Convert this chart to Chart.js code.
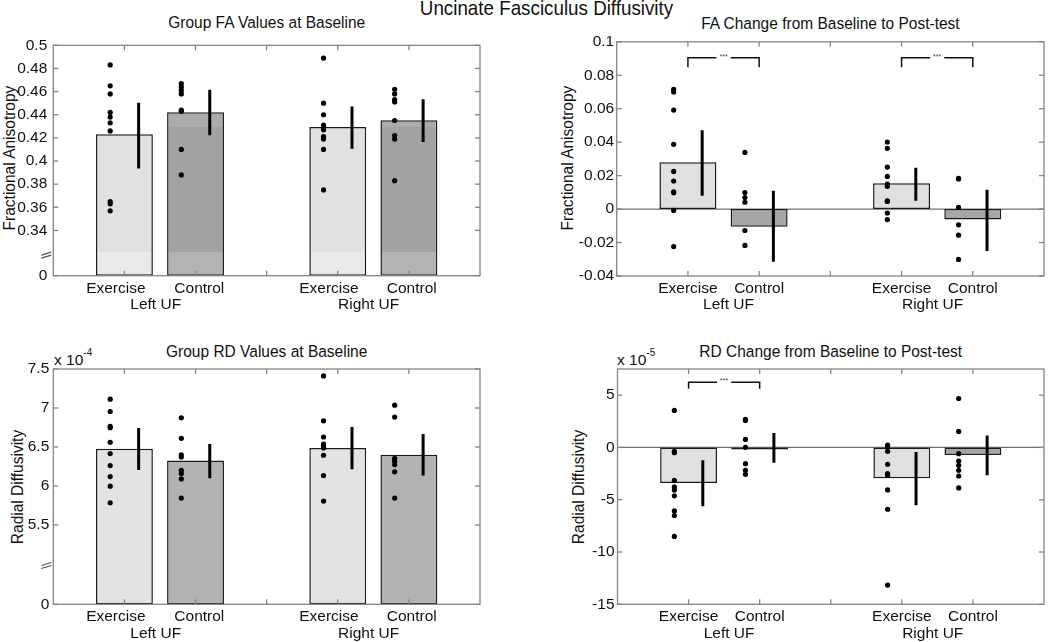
<!DOCTYPE html>
<html><head><meta charset="utf-8">
<script src="https://cdn.jsdelivr.net/npm/chart.js@4"></script>
<style>
html,body{margin:0;padding:0;background:#fff;}
body{width:1050px;height:642px;position:relative;overflow:hidden;font-family:"Liberation Sans",Arial,sans-serif;color:#111;}
.pane{position:absolute;}
.pane canvas{display:block;}
.txt{position:absolute;white-space:nowrap;transform:translate(-50%,-50%) scale(1,1.1);line-height:1;font-size:15.5px;}
.ylab{position:absolute;white-space:nowrap;transform:translate(-50%,-50%) rotate(-90deg) scale(1,1.1);line-height:1;font-size:15.5px;}
.mult{position:absolute;white-space:nowrap;font-size:15.5px;line-height:1;}
.mult sup{font-size:10px;position:relative;top:-4px;vertical-align:top;}
</style></head>
<body>
<div class="txt" style="left:546.5px;top:9px;font-size:18.8px;">Uncinate Fasciculus Diffusivity</div>
<div class="txt" style="left:266.7px;top:22px;">Group FA Values at Baseline</div>
<div class="txt" style="left:830.4px;top:22.7px;">FA Change from Baseline to Post-test</div>
<div class="txt" style="left:266.7px;top:350.7px;">Group RD Values at Baseline</div>
<div class="txt" style="left:830.7px;top:351px;">RD Change from Baseline to Post-test</div>
<div class="ylab" style="left:8.5px;top:157.5px;">Fractional Anisotropy</div>
<div class="ylab" style="left:566.7px;top:157.5px;">Fractional Anisotropy</div>
<div class="ylab" style="left:16.7px;top:486.5px;">Radial Diffusivity</div>
<div class="ylab" style="left:578px;top:486.5px;">Radial Diffusivity</div>
<div class="mult" style="left:54px;top:352px;">x 10<sup>-4</sup></div>
<div class="mult" style="left:617px;top:352px;">x 10<sup>-5</sup></div>

<div class="pane" style="left:0;top:30px;"><canvas id="c1" width="525" height="290"></canvas></div>
<div class="pane" style="left:525px;top:30px;"><canvas id="c2" width="525" height="290"></canvas></div>
<div class="pane" style="left:0;top:320px;"><canvas id="c3" width="525" height="322"></canvas></div>
<div class="pane" style="left:525px;top:320px;"><canvas id="c4" width="525" height="322"></canvas></div>

<script>
// ---------------- DATA ----------------
// group order: Left Exercise, Left Control, Right Exercise, Right Control
const groupPos = [1, 2, 4, 5];
const xTickValues = [1, 2, 3, 4, 5];
const xCatLabels = ['Exercise', 'Control', 'Exercise', 'Control'];
const sideLabels = ['Left UF', 'Right UF'];

// Panel 1: Group FA values at baseline
const faBaseMean  = [0.4231, 0.4422, 0.4293, 0.4352];
const faBaseErrLo = [0.3936, 0.4222, 0.4107, 0.4164];
const faBaseErrHi = [0.4503, 0.4615, 0.4472, 0.4534];
const faBaseLeftEx   = [0.483, 0.465, 0.458, 0.442, 0.438, 0.433, 0.426, 0.365, 0.363, 0.357];
const faBaseLeftCon  = [0.467, 0.464, 0.461, 0.458, 0.444, 0.443, 0.410, 0.388];
const faBaseRightEx  = [0.489, 0.450, 0.440, 0.431, 0.429, 0.427, 0.421, 0.419, 0.410, 0.375];
const faBaseRightCon = [0.462, 0.458, 0.453, 0.451, 0.435, 0.422, 0.419, 0.383];
const faBaseTicks = [0, 0.34, 0.36, 0.38, 0.4, 0.42, 0.44, 0.46, 0.48, 0.5];

// Panel 2: FA change from baseline to post-test
const faChgMean  = [0.0280, -0.0106, 0.0154, -0.0063];
const faChgErrLo = [0.0079, -0.0315, 0.0050, -0.0250];
const faChgErrHi = [0.0472, 0.0109, 0.0247, 0.0115];
const faChgLeftEx   = [0.0716, 0.0700, 0.0592, 0.0387, 0.0225, 0.0168, 0.0103, 0.0097, -0.0008, -0.0224];
const faChgLeftCon  = [0.0339, 0.0099, 0.0069, 0.0041, -0.0128, -0.0217];
const faChgRightEx  = [0.0401, 0.0363, 0.0251, 0.0195, 0.0150, 0.0136, 0.0049, 0.0046, -0.0024, -0.0063];
const faChgRightCon = [0.0184, 0.0180, 0.0010, -0.0094, -0.0156, -0.0301];
const faChgTicks = [-0.04, -0.02, 0, 0.02, 0.04, 0.06, 0.08, 0.1];
const faChgBrackets = [[1, 2], [4, 5]];
const faChgBracketY = 0.0905, faChgBracketDrop = 0.0057;

// Panel 3: Group RD values at baseline (x 10^-4)
const rdBaseMean  = [6.479, 6.326, 6.487, 6.402];
const rdBaseErrLo = [6.206, 6.100, 6.215, 6.134];
const rdBaseErrHi = [6.743, 6.538, 6.755, 6.666];
const rdBaseLeftEx   = [7.113, 6.955, 6.764, 6.747, 6.560, 6.415, 6.262, 6.121, 5.998, 5.785];
const rdBaseLeftCon  = [6.874, 6.611, 6.398, 6.372, 6.202, 6.160, 6.091, 5.845];
const rdBaseRightEx  = [7.411, 6.836, 6.628, 6.538, 6.509, 6.487, 6.394, 6.134, 5.806];
const rdBaseRightCon = [7.036, 6.883, 6.355, 6.321, 6.274, 6.181, 5.845];
const rdBaseTicks = [0, 5.5, 6, 6.5, 7, 7.5];

// Panel 4: RD change from baseline to post-test (x 10^-5)
const rdChgMean  = [-3.39, -0.03, -2.95, -0.72];
const rdChgErrLo = [-5.62, -1.46, -5.52, -2.66];
const rdChgErrHi = [-1.23, 1.37, -0.44, 1.15];
const rdChgLeftEx   = [3.54, -0.37, -0.50, -3.14, -3.78, -4.06, -4.63, -6.07, -6.51, -8.51];
const rdChgLeftCon  = [2.68, 2.58, 0.77, 0.01, -1.55, -2.19, -2.57];
const rdChgRightEx  = [0.23, 0.01, -0.37, -1.61, -2.50, -2.66, -4.06, -5.91, -13.16];
const rdChgRightCon = [4.68, 1.53, -0.60, -1.30, -1.71, -2.19, -2.73, -3.87];
const rdChgTicks = [-15, -10, -5, 0, 5];
const rdChgBrackets = [[1, 2]];
const rdChgBracketY = 6.24, rdChgBracketDrop = 0.63;

// ---------------- LAYOUT (label anchor positions in axis units) ----------------
const leftColCatAt  = [0.88, 2.053, 3.876, 5.04];
const leftColSideAt = [1.44, 4.434];
const rightColCatAt  = [1, 2, 4, 5];
const rightColSideAt = [1.57, 4.435];

// ---------------- CHART SETUP ----------------
const FONT = '"Liberation Sans", Arial, sans-serif';
Chart.defaults.font.family = FONT;
Chart.defaults.font.size = 15.5;
Chart.defaults.color = '#111';

// linear scale with an axis break (values below breakAt are compressed)
class BrokenLinearScale extends Chart.LinearScale {
  _brk() { return { at: this.options.breakAt, gap: this.options.breakGap }; }
  getPixelForValue(value) {
    if (value === null || value === undefined || isNaN(value)) return NaN;
    const b = this._brk();
    const span = (this.max - b.at) + b.gap;
    const t = value >= b.at ? (value - b.at + b.gap) : (value / b.at) * b.gap;
    return this.bottom - (t / span) * this.height;
  }
  getValueForPixel(pixel) {
    const b = this._brk();
    const span = (this.max - b.at) + b.gap;
    const t = (this.bottom - pixel) / this.height * span;
    return t >= b.gap ? t - b.gap + b.at : t / b.gap * b.at;
  }
}
BrokenLinearScale.id = 'brokenLinear';
BrokenLinearScale.defaults = Chart.LinearScale.defaults;
Chart.register(BrokenLinearScale);

function line(ctx, x1, y1, x2, y2) { ctx.beginPath(); ctx.moveTo(x1, y1); ctx.lineTo(x2, y2); ctx.stroke(); }

const matlabAxes = {
  id: 'matlabAxes',
  beforeDatasetsDraw(chart, args, o) {
    const { ctx, chartArea: a } = chart;
    if (o.zeroLine) {
      const py = chart.scales.y.getPixelForValue(0);
      ctx.save(); ctx.strokeStyle = '#707070'; ctx.lineWidth = 1.2;
      line(ctx, a.left, py, a.right, py); ctx.restore();
    }
  },
  afterDatasetsDraw(chart, args, o) {
    const { ctx, chartArea: a } = chart;
    const xs = chart.scales.x, ys = chart.scales.y;
    ctx.save();
    ctx.strokeStyle = '#858585'; ctx.lineWidth = 1.3;
    ctx.strokeRect(a.left, a.top, a.right - a.left, a.bottom - a.top);
    const tl = 5;
    o.xTicks.forEach(v => {
      const px = xs.getPixelForValue(v);
      line(ctx, px, a.bottom, px, a.bottom - tl);
      line(ctx, px, a.top, px, a.top + tl);
    });
    ys.ticks.forEach(t => {
      const py = ys.getPixelForValue(t.value);
      line(ctx, a.left, py, a.left + tl, py);
      line(ctx, a.right, py, a.right - tl, py);
    });
    if (o.breakAt !== undefined) {
      const py = ys.getPixelForValue(o.breakAt);
      ctx.strokeStyle = '#555'; ctx.lineWidth = 1.2;
      line(ctx, a.left - 12, py + 1.5, a.left - 2, py - 1.5);
      line(ctx, a.left - 12, py + 4.5, a.left - 2, py + 1.5);
    }
    if (o.brackets) {
      ctx.fillStyle = '#444';
      ctx.font = '7px ' + FONT;
      ctx.textAlign = 'center'; ctx.textBaseline = 'middle';
      o.brackets.forEach(([p, q]) => {
        ctx.fillText('***', xs.getPixelForValue((p + q) / 2), ys.getPixelForValue(o.bracketY) - 1);
      });
    }
    ctx.restore();
  }
};

function buildPanel(id, d) {
  const canvas = document.getElementById(id);
  const W = canvas.width, H = canvas.height;
  const p = d.plot;
  const dotOffset = -0.2, errOffset = 0.2;

  const barData = d.mean.map((m, i) => ({ x: groupPos[i], y: m }));
  const errData = [];
  d.lo.forEach((l, i) => {
    const x = groupPos[i] + errOffset;
    errData.push({ x, y: l }, { x, y: d.hi[i] }, { x, y: null });
  });
  const dotData = [];
  d.dots.forEach((arr, i) => arr.forEach(v => dotData.push({ x: groupPos[i] + dotOffset, y: v })));

  const datasets = [
    { type: 'scatter', data: dotData, order: 0, pointRadius: 2.6, pointBackgroundColor: '#000', pointBorderWidth: 0, showLine: false },
    { type: 'line', data: errData, order: 1, borderColor: '#000', borderWidth: 3, pointRadius: 0, spanGaps: false, borderCapStyle: 'butt', fill: false },
    { type: 'bar', data: barData, order: 2, grouped: false, categoryPercentage: 1, barPercentage: 0.8,
      backgroundColor: d.barColor, borderColor: '#1b1b1b', borderWidth: 1.5, borderSkipped: false, minBarLength: d.minBar || 0 }
  ];
  if (d.brackets) {
    const bd = [];
    d.brackets.forEach(([a, b]) => {
      const mid = (a + b) / 2, hg = 0.1;
      bd.push({ x: a, y: d.bracketY - d.bracketDrop }, { x: a, y: d.bracketY }, { x: mid - hg, y: d.bracketY }, { x: mid, y: null },
              { x: mid + hg, y: d.bracketY }, { x: b, y: d.bracketY }, { x: b, y: d.bracketY - d.bracketDrop }, { x: b, y: null });
    });
    datasets.push({ type: 'line', data: bd, order: 1, borderColor: '#111', borderWidth: 1.5, pointRadius: 0, spanGaps: false, fill: false });
  }

  const yScale = {
    type: d.breakAt !== undefined ? 'brokenLinear' : 'linear',
    min: d.yMin, max: d.yMax,
    grid: { display: false, drawTicks: false, tickLength: 0 }, border: { display: false },
    afterBuildTicks: s => { s.ticks = d.yTicks.map(v => ({ value: v })); },
    ticks: { padding: d.yPad, autoSkip: false, font: { size: 15.5 }, color: '#111',
      callback: v => String(+Number(v).toFixed(4)) },
    afterFit: s => { s.width = p.left; }
  };
  if (d.breakAt !== undefined) { yScale.breakAt = d.breakAt; yScale.breakGap = d.breakGap; }

  const H1 = 20;
  return new Chart(canvas, {
    type: 'bar',
    data: { datasets },
    plugins: [matlabAxes],
    options: {
      responsive: false, animation: false, events: [],
      layout: { padding: { left: 0, top: p.top, right: W - p.right, bottom: 0 } },
      plugins: { legend: { display: false }, tooltip: { enabled: false },
        matlabAxes: { xTicks: xTickValues, zeroLine: d.zeroLine, breakAt: d.breakAt, brackets: d.brackets, bracketY: d.bracketY } },
      scales: {
        x: { type: 'linear', position: 'bottom', min: 0, max: 6, offset: false, weight: 0,
          grid: { display: false, offset: false, drawTicks: false, tickLength: 0 }, border: { display: false },
          afterBuildTicks: s => { s.ticks = d.catAt.map(v => ({ value: v })); },
          ticks: { autoSkip: false, maxRotation: 0, minRotation: 0, padding: 4, font: { size: 15.5, lineHeight: 1.1 }, color: '#111',
            callback: (v, i) => xCatLabels[i] },
          afterFit: s => { s.height = H1; } },
        x2: { type: 'linear', position: 'bottom', min: 0, max: 6, offset: false, weight: 1,
          grid: { display: false, offset: false, drawTicks: false, tickLength: 0 }, border: { display: false },
          afterBuildTicks: s => { s.ticks = d.sideAt.map(v => ({ value: v })); },
          ticks: { autoSkip: false, maxRotation: 0, minRotation: 0, padding: 0.6, font: { size: 15.5, lineHeight: 1.1 }, color: '#111',
            callback: (v, i) => sideLabels[i] },
          afterFit: s => { s.height = H - p.bottom - H1; } },
        y: yScale
      }
    }
  });
}

// background colours for panel 1 (bars show lighter band below the axis break)
function bandFill(stops) {
  return ctx => {
    const ch = ctx.chart, a = ch.chartArea;
    if (!a) return stops[0][1];
    const ys = ch.scales.y;
    const g = ch.ctx.createLinearGradient(0, a.bottom, 0, a.top);
    const h = a.bottom - a.top;
    let prev = 0;
    stops.forEach(([val, col], k) => {
      const next = k < stops.length - 1 ? Math.min(1, Math.max(0, (a.bottom - ys.getPixelForValue(stops[k + 1][0])) / h)) : 1;
      g.addColorStop(prev, col); g.addColorStop(next, col);
      prev = next;
    });
    return g;
  };
}
const exFill1 = bandFill([[0, '#e9e9e9'], [0.3215, '#e1e1e1']]);
const conFill1 = bandFill([[0, '#b3b3b3'], [0.3215, '#a2a2a2'], [0.4293, '#acacac']]);

buildPanel('c1', {
  plot: { left: 53.3, top: 9.3, right: 480, bottom: 245.7 },
  catAt: leftColCatAt, sideAt: leftColSideAt,
  mean: faBaseMean, lo: faBaseErrLo, hi: faBaseErrHi,
  dots: [faBaseLeftEx, faBaseLeftCon, faBaseRightEx, faBaseRightCon],
  yMin: 0, yMax: 0.5, yTicks: faBaseTicks, yPad: 6,
  breakAt: 0.32, breakGap: 0.0191,
  barColor: c => (c.dataIndex % 2 === 0 ? exFill1(c) : conFill1(c))
});
buildPanel('c2', {
  plot: { left: 91.7, top: 9.3, right: 519, bottom: 246 },
  catAt: rightColCatAt, sideAt: rightColSideAt,
  mean: faChgMean, lo: faChgErrLo, hi: faChgErrHi,
  dots: [faChgLeftEx, faChgLeftCon, faChgRightEx, faChgRightCon],
  yMin: -0.04, yMax: 0.1, yTicks: faChgTicks, yPad: 2.5, zeroLine: true,
  brackets: faChgBrackets, bracketY: faChgBracketY, bracketDrop: faChgBracketDrop,
  barColor: ['#e0e0e0', '#a6a6a6', '#e0e0e0', '#a6a6a6']
});
buildPanel('c3', {
  plot: { left: 53.3, top: 49, right: 480, bottom: 284.3 },
  catAt: leftColCatAt, sideAt: leftColSideAt,
  mean: rdBaseMean, lo: rdBaseErrLo, hi: rdBaseErrHi,
  dots: [rdBaseLeftEx, rdBaseLeftCon, rdBaseRightEx, rdBaseRightCon],
  yMin: 0, yMax: 7.5, yTicks: rdBaseTicks, yPad: 4,
  breakAt: 5.0, breakGap: 0.517,
  barColor: ['#e3e3e3', '#b2b2b2', '#e3e3e3', '#b2b2b2']
});
buildPanel('c4', {
  plot: { left: 92.5, top: 49, right: 519, bottom: 284.3 },
  catAt: rightColCatAt, sideAt: rightColSideAt,
  mean: rdChgMean, lo: rdChgErrLo, hi: rdChgErrHi,
  dots: [rdChgLeftEx, rdChgLeftCon, rdChgRightEx, rdChgRightCon],
  yMin: -15, yMax: 7.5, yTicks: rdChgTicks, yPad: 3, zeroLine: true, minBar: 2,
  brackets: rdChgBrackets, bracketY: rdChgBracketY, bracketDrop: rdChgBracketDrop,
  barColor: ['#e0e0e0', '#a6a6a6', '#e0e0e0', '#a6a6a6']
});
</script>
</body></html>
